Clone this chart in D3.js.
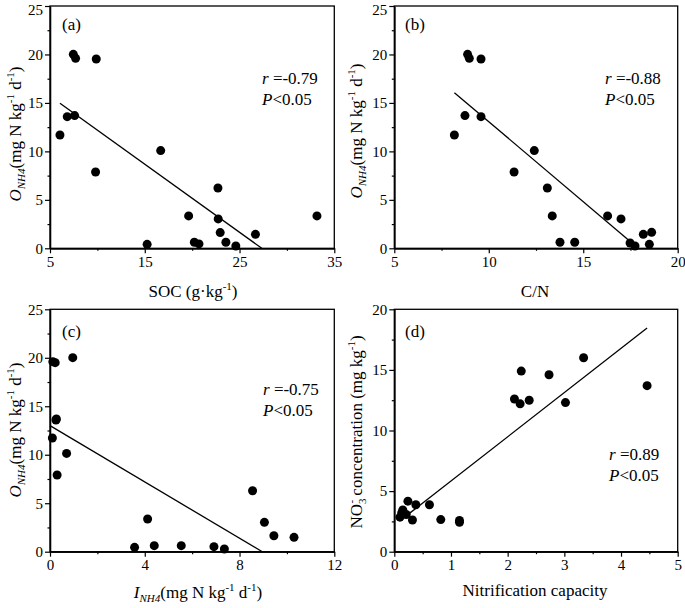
<!DOCTYPE html>
<html><head><meta charset="utf-8">
<script src="https://cdn.jsdelivr.net/npm/d3@7"></script>
<style>
html,body{margin:0;padding:0;background:#fff;}
svg{display:block;font-family:"Liberation Serif","Times New Roman",serif;}
</style></head><body>
<svg id="chart" width="685" height="608"></svg>
<script>
// ---------- data ----------
const socX = [6.05,6.82,7.60,7.46,7.70,9.88,9.81,16.68,15.25,19.63,20.23,20.72,22.72,22.75,22.96,23.56,24.61,26.68,33.17];
const socY = [11.69,13.58,13.69,20.01,19.6,19.53,7.87,10.08,0.41,3.34,0.62,0.45,6.22,3.03,1.62,0.62,0.24,1.44,3.34];
const cnX = [8.18,8.74,8.88,8.97,9.59,9.59,11.34,12.41,13.10,13.36,13.77,14.55,16.29,17.0,17.48,17.74,18.18,18.50,18.62];
const cnY = [11.69,13.69,20.01,19.6,19.53,13.58,7.87,10.08,6.22,3.34,0.62,0.62,3.34,3.03,0.55,0.24,1.44,0.41,1.65];
const inhX = [0.10,0.12,0.22,0.96,0.27,0.25,0.70,0.30,3.57,4.12,4.40,5.54,6.92,7.36,8.55,9.05,9.45,10.30];
const inhY = [11.73,19.6,19.5,20.01,13.69,13.58,10.14,7.91,0.45,3.37,0.62,0.62,0.52,0.28,6.29,3.03,1.65,1.48];
const ncX = [0.10,0.15,0.13,0.21,0.24,0.32,0.38,0.62,0.82,1.15,1.15,2.12,2.22,2.24,2.38,2.73,3.02,3.34,4.46];
const no3Y = [2.85,3.45,3.2,3.07,4.17,2.62,3.87,3.87,2.65,2.57,2.43,12.6,12.2,14.9,12.5,14.6,12.3,16.0,13.7];

const fitA = [[6.05,14.96],[27.35,0]];
const fitB = [[8.18,16.06],[17.44,0.79]];
const fitC = [[0,13.0],[8.96,0]];
const fitD = [[0.25,3.1],[4.46,18.45]];

const xTicksA = [5,15,25,35], xMinorA = [10,20,30];
const xTicksB = [5,10,15,20], xMinorB = [7.5,12.5,17.5];
const xTicksC = [0,4,8,12], xMinorC = [2,6,10];
const xTicksD = [0,1,2,3,4,5], xMinorD = [0.5,1.5,2.5,3.5,4.5];
const yTicks25 = [0,5,10,15,20,25], yMinor25 = [2.5,7.5,12.5,17.5,22.5];
const yTicks20 = [0,5,10,15,20], yMinor20 = [2.5,7.5,12.5,17.5];

const statsA = ["-0.79","0.05"], statsB = ["-0.88","0.05"], statsC = ["-0.75","0.05"], statsD = ["0.89","0.05"];

// ---------- drawing ----------
const svg = d3.select("#chart");

function panel(o){
  const x = d3.scaleLinear().domain(o.xd).range([o.x0,o.x1]);
  const y = d3.scaleLinear().domain(o.yd).range([o.y1,o.y0]);
  const g = svg.append("g");
  g.append("rect").attr("x",o.x0).attr("y",o.y0).attr("width",o.x1-o.x0).attr("height",o.y1-o.y0)
    .attr("fill","none").attr("stroke","#000").attr("stroke-width",1.3);
  const ax = g.append("g").attr("transform",`translate(0,${o.y1})`)
    .call(d3.axisBottom(x).tickValues(o.xt).tickSize(5).tickSizeOuter(0).tickPadding(3).tickFormat(d3.format("~g")));
  const axm = g.append("g").attr("transform",`translate(0,${o.y1})`)
    .call(d3.axisBottom(x).tickValues(o.xm).tickSize(2.5).tickSizeOuter(0).tickFormat(""));
  const ay = g.append("g").attr("transform",`translate(${o.x0},0)`)
    .call(d3.axisLeft(y).tickValues(o.yt).tickSize(5).tickSizeOuter(0).tickPadding(2));
  const aym = g.append("g").attr("transform",`translate(${o.x0},0)`)
    .call(d3.axisLeft(y).tickValues(o.ym).tickSize(2.5).tickSizeOuter(0).tickFormat(""));
  [ax,axm,ay,aym].forEach(a=>{
    a.attr("font-family",null);
    a.select(".domain").attr("stroke","#000").attr("stroke-width",1.3);
    a.selectAll("line").attr("stroke","#000").attr("stroke-width",1.2);
    a.selectAll("text").attr("fill","#000").style("font-size","15px").style("font-family","'Liberation Serif',serif");
  });
  // keep the top y label inside the page
  ay.selectAll(".tick text").filter(d=>y(d)<12).attr("dy","0.32em").attr("y",12 - y(o.yd[1]) > 0 ? 4 : 0);
  g.selectAll("circle.p").data(o.xs.map((v,i)=>[v,o.ys[i]])).enter().append("circle")
    .attr("cx",d=>x(d[0])).attr("cy",d=>y(d[1])).attr("r",4.5).attr("fill","#000");
  g.append("path").attr("d",d3.line().x(d=>x(d[0])).y(d=>y(d[1]))(o.fit))
    .attr("stroke","#000").attr("stroke-width",1.3).attr("fill","none");
  g.append("text").attr("x",o.lab[0]).attr("y",o.lab[1]).style("font-size","17px").text(o.label);
  const t1 = g.append("text").attr("x",o.st[0]).attr("y",o.st[1]).style("font-size","17px");
  t1.append("tspan").style("font-style","italic").text("r");
  t1.append("tspan").text(" =" + o.stats[0]);
  const t2 = g.append("text").attr("x",o.st[0]).attr("y",o.st[1]+21).style("font-size","17px");
  t2.append("tspan").style("font-style","italic").text("P");
  t2.append("tspan").text("<" + o.stats[1]);
  return {x,y,g};
}

function oTitle(cx, cy){
  const t = svg.append("text").attr("transform",`translate(${cx},${cy}) rotate(-90)`)
    .attr("text-anchor","middle").style("font-size","17px");
  t.append("tspan").style("font-style","italic").text("O");
  t.append("tspan").style("font-style","italic").style("font-size","11px").attr("dy",4).text("NH4");
  t.append("tspan").attr("dy",-4).text("(mg N kg");
  t.append("tspan").style("font-size","11px").attr("dy",-7).text("-1");
  t.append("tspan").attr("dy",7).text(" d");
  t.append("tspan").style("font-size","11px").attr("dy",-7).text("-1");
  t.append("tspan").attr("dy",7).text(")");
}

panel({x0:50,x1:334.3,y0:6,y1:248.3,xd:[5,35],yd:[0,25],xt:xTicksA,xm:xMinorA,yt:yTicks25,ym:yMinor25,
  xs:socX,ys:socY,fit:fitA,label:"(a)",lab:[62,30],st:[262,84],stats:statsA});
panel({x0:394.3,x1:677.7,y0:6,y1:248.3,xd:[5,20],yd:[0,25],xt:xTicksB,xm:xMinorB,yt:yTicks25,ym:yMinor25,
  xs:cnX,ys:cnY,fit:fitB,label:"(b)",lab:[405,30],st:[605,84],stats:statsB});
panel({x0:50,x1:334.3,y0:309.3,y1:551.7,xd:[0,12],yd:[0,25],xt:xTicksC,xm:xMinorC,yt:yTicks25,ym:yMinor25,
  xs:inhX,ys:inhY,fit:fitC,label:"(c)",lab:[62,337],st:[263,395],stats:statsC});
panel({x0:394.3,x1:677.7,y0:309.3,y1:551.7,xd:[0,5],yd:[0,20],xt:xTicksD,xm:xMinorD,yt:yTicks20,ym:yMinor20,
  xs:ncX,ys:no3Y,fit:fitD,label:"(d)",lab:[405,337],st:[609,460],stats:statsD});

oTitle(21,134);
oTitle(362,131);
oTitle(21,430);
{
  const t = svg.append("text").attr("transform",`translate(362,432) rotate(-90)`)
    .attr("text-anchor","middle").style("font-size","17px");
  t.append("tspan").text("NO");
  t.append("tspan").style("font-size","11px").attr("dy",4).text("3");
  t.append("tspan").style("font-size","11px").attr("dx",-5).attr("dy",-11).text("-");
  t.append("tspan").attr("dy",7).text(" concentration (mg kg");
  t.append("tspan").style("font-size","11px").attr("dy",-7).text("-1");
  t.append("tspan").attr("dy",7).text(")");
}

{
  const t = svg.append("text").attr("x",193).attr("y",297).attr("text-anchor","middle").style("font-size","17px");
  t.append("tspan").text("SOC (g·kg");
  t.append("tspan").style("font-size","11px").attr("dy",-7).text("-1");
  t.append("tspan").attr("dy",7).text(")");
}
svg.append("text").attr("x",535).attr("y",297).attr("text-anchor","middle").style("font-size","17px").text("C/N");
{
  const t = svg.append("text").attr("x",198).attr("y",598).attr("text-anchor","middle").style("font-size","17px");
  t.append("tspan").style("font-style","italic").text("I");
  t.append("tspan").style("font-style","italic").style("font-size","11px").attr("dy",4).text("NH4");
  t.append("tspan").attr("dy",-4).text("(mg N kg");
  t.append("tspan").style("font-size","11px").attr("dy",-7).text("-1");
  t.append("tspan").attr("dy",7).text(" d");
  t.append("tspan").style("font-size","11px").attr("dy",-7).text("-1");
  t.append("tspan").attr("dy",7).text(")");
}
svg.append("text").attr("x",535).attr("y",596).attr("text-anchor","middle").style("font-size","17px").text("Nitrification capacity");
</script>
</body></html>
